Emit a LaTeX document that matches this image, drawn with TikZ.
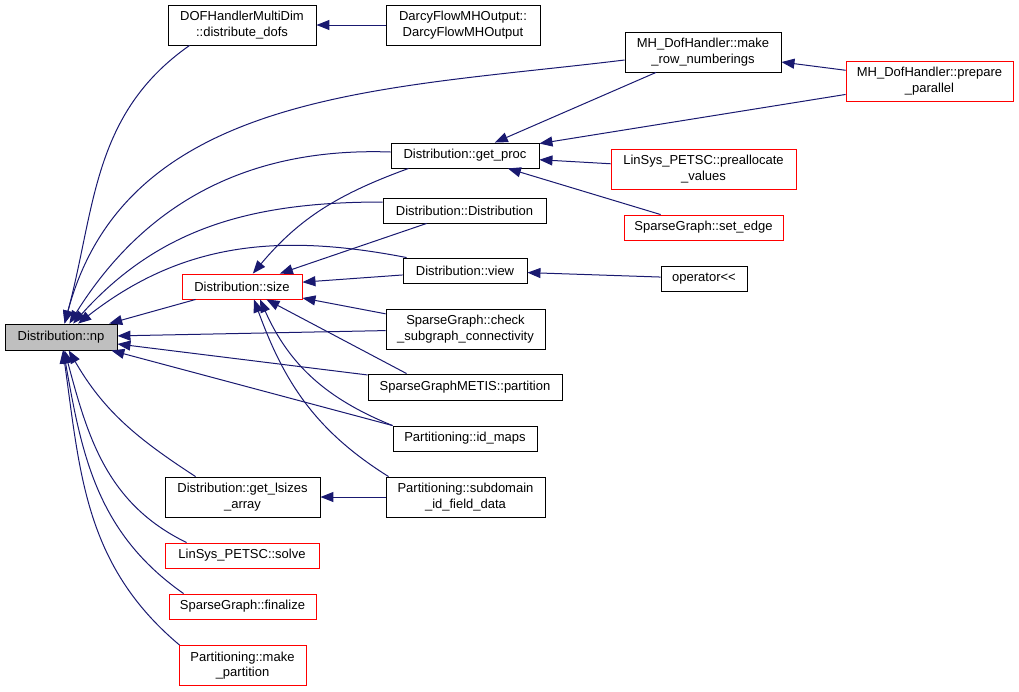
\documentclass[tikz,border=0pt]{standalone}
\usepackage{fontspec}
\setmainfont{Liberation Sans}
\usetikzlibrary{arrows.meta}
\definecolor{edgeblue}{HTML}{191970}
\definecolor{rootgray}{HTML}{BFBFBF}
\begin{document}
\begin{tikzpicture}[x=1pt,y=1pt,
    fn/.style={draw=black,line width=0.9pt,inner sep=0pt,align=center,
      font=\fontsize{13}{15.5}\selectfont,minimum height=25},
    redfn/.style={fn,draw=red},
    rootfn/.style={fn,fill=rootgray},
    tall/.style={minimum height=40}]
  \useasboundingbox (0,0) rectangle (1019,-691);
  \draw
    (61,-337) node[rootfn,minimum width=112,minimum height=26] (np){Distribution::np}
    (242,-25) node[fn,tall,minimum width=148] (dof){DOFHandlerMultiDim\\::distribute\_dofs}
    (463,-25) node[fn,tall,minimum width=154] (darcy){DarcyFlowMHOutput::\\DarcyFlowMHOutput}
    (703,-52) node[fn,tall,minimum width=156] (mkrow){MH\_DofHandler::make\\\_row\_numberings}
    (929.5,-81) node[redfn,tall,minimum width=167] (prep){MH\_DofHandler::prepare\\\_parallel}
    (465,-155.5) node[fn,minimum width=148] (getproc){Distribution::get\_proc}
    (703.5,-169) node[redfn,tall,minimum width=185] (prealloc){LinSys\_PETSC::preallocate\\\_values}
    (464.5,-210.5) node[fn,minimum width=163] (distr){Distribution::Distribution}
    (703.5,-227.5) node[redfn,minimum width=159] (setedge){SparseGraph::set\_edge}
    (465,-270.5) node[fn,minimum width=124] (view){Distribution::view}
    (704,-278.5) node[fn,minimum width=86] (oper){operator<{}<}
    (242,-286.5) node[redfn,minimum width=120] (size){Distribution::size}
    (465.5,-329) node[fn,tall,minimum width=159] (check){SparseGraph::check\\\_subgraph\_connectivity}
    (465,-387) node[fn,minimum width=194,minimum height=26] (metis){SparseGraphMETIS::partition}
    (465,-438.5) node[fn,minimum width=144] (idmaps){Partitioning::id\_maps}
    (242.5,-497) node[fn,tall,minimum width=155] (lsizes){Distribution::get\_lsizes\\\_array}
    (465.5,-497) node[fn,tall,minimum width=159] (subdom){Partitioning::subdomain\\\_id\_field\_data}
    (242,-555.5) node[redfn,minimum width=154] (solve){LinSys\_PETSC::solve}
    (242.5,-606.5) node[redfn,minimum width=147] (finalize){SparseGraph::finalize}
    (242.5,-665.5) node[redfn,tall,minimum width=127] (mkpart){Partitioning::make\\\_partition};
  \begin{scope}[edgeblue,line width=1pt,>={Triangle[length=13pt,width=10pt]},<-]
    \draw (np) to[out=75,in=215] ([xshift=22]dof.south west);
    \draw (np) to[out=75,in=187] ([yshift=-8]mkrow.west);
    \draw (np) to[out=58,in=178] ([yshift=3.5]getproc.west);
    \draw (np) to[out=48,in=180] ([yshift=8.5]distr.west);
    \draw (np) to[out=38,in=169] ([xshift=4]view.north west);
    \draw (np) -- (size);
    \draw (np) -- (check);
    \draw (np) -- (metis);
    \draw (np) -- (idmaps.north west);
    \draw (np) to[out=-60,in=147] ([xshift=31]lsizes.north west);
    \draw (np) to[out=-75,in=154] ([xshift=22]solve.north west);
    \draw (np) to[out=-80,in=145] ([xshift=15]finalize.north west);
    \draw (np) to[out=-82,in=140] ([xshift=1]mkpart.north west);
    \draw (size) to[out=50,in=200] ([xshift=18]getproc.south west);
    \draw (size) -- (distr);
    \draw (size) -- (view);
    \draw (size) -- (check);
    \draw (size) -- ([xshift=39]metis.north west);
    \draw ([xshift=18]size.south) to[out=-66,in=158] (idmaps.north west);
    \draw ([xshift=12]size.south) to[out=-70,in=148] ([xshift=3]subdom.north west);
    \draw (getproc) -- (mkrow);
    \draw (getproc) -- (prep);
    \draw (getproc) -- (prealloc);
    \draw (getproc) -- (setedge);
    \draw (dof) -- (darcy);
    \draw (mkrow) -- (prep);
    \draw (view) -- (oper);
    \draw (lsizes) -- (subdom);
  \end{scope}
\end{tikzpicture}
\end{document}
